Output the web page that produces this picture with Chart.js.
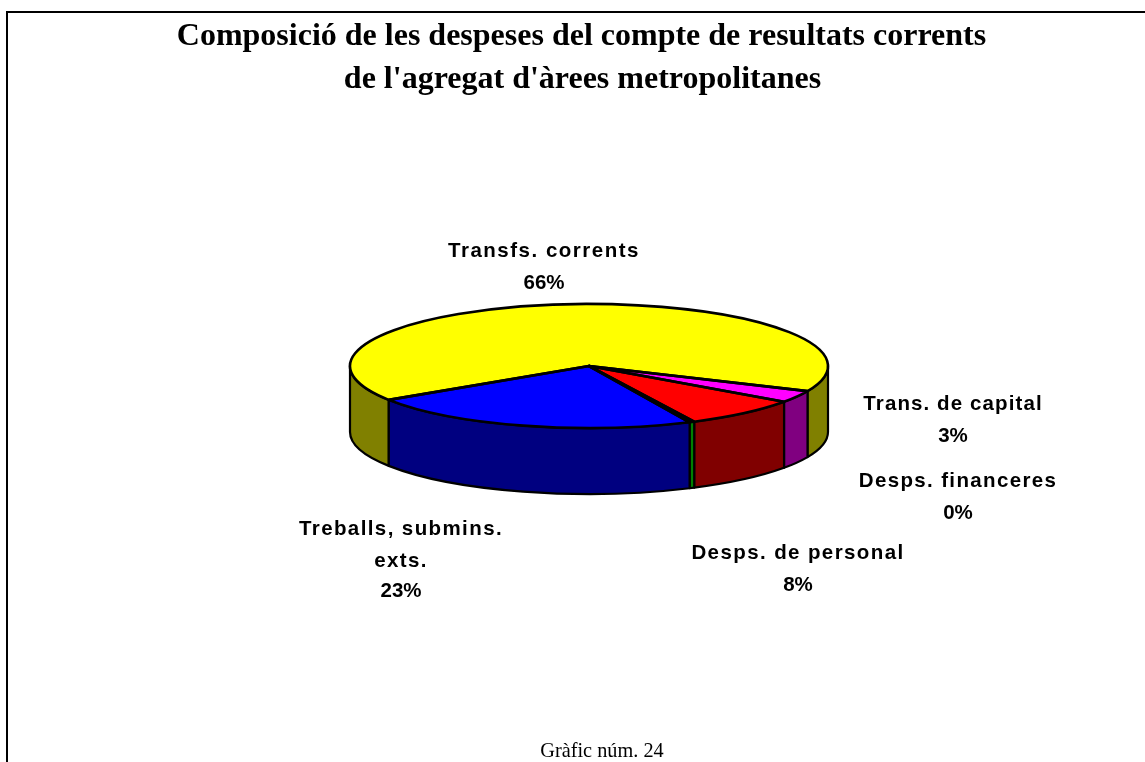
<!DOCTYPE html>
<html><head><meta charset="utf-8">
<style>html,body{margin:0;padding:0;background:#fff}#w{position:absolute;left:0;top:0;width:1145px;height:762px}</style>
<script src="https://cdn.jsdelivr.net/npm/chart.js@4"></script>
</head><body><div id="w"><canvas id="c" width="1145" height="762"></canvas></div>
<script>
const categories = ["Transfs. corrents","Trans. de capital","Desps. de personal","Desps. financeres","Treballs, submins. exts."];
const values = [65.83,3.17,7.94,0.34,22.72];
const percentLabels = ["66%","3%","8%","0%","23%"];
const topColors = ["#ffff00","#ff00ff","#ff0000","#008000","#0000ff"];
const sideColors = ["#808000","#800080","#800000","#008000","#000080"];
const titleLines = ["Composició de les despeses del compte de resultats corrents","de l'agregat d'àrees metropolitanes"];
const footerText = "Gràfic núm. 24";
const labelLines = [["Transfs. corrents"],["Trans. de capital"],["Desps. de personal"],["Desps. financeres"],["Treballs, submins.","exts."]];

const RX=239, RY=62, DEPTH=66, K=RY/RX;

const pie3d = {
  id:'pie3d',
  beforeDraw(chart){
    const c=chart.ctx; c.save();
    c.strokeStyle='#000'; c.lineWidth=2;
    c.beginPath(); c.moveTo(7,763); c.lineTo(7,12); c.lineTo(1146,12); c.stroke();
    c.fillStyle='#000'; c.textAlign='center'; c.textBaseline='alphabetic';
    c.font='bold 32px "Liberation Serif"';
    c.fillText(titleLines[0],581.5,45);
    c.fillText(titleLines[1],582.5,88);
    c.font='20.3px "Liberation Serif"';
    c.fillText(footerText,602,757);
    c.restore();
  },
  beforeDatasetsDraw(chart){
    const c=chart.ctx, arcs=chart.getDatasetMeta(0).data;
    const wall=(a,b,col)=>{
      const s=Math.max(a,0), e=Math.min(b,Math.PI);
      if(e<=s) return;
      const x=arcs[0].x, y=arcs[0].y;
      c.beginPath();
      c.ellipse(x,y,RX,RY,0,s,e,false);
      c.ellipse(x,y+DEPTH,RX,RY,0,e,s,true);
      c.closePath();
      c.fillStyle=col; c.fill();
      c.lineWidth=2.2; c.strokeStyle='#000'; c.lineJoin='round'; c.stroke();
    };
    c.save();
    const twoPi=Math.PI*2;
    arcs.forEach((arc,i)=>{
      let a=arc.startAngle%twoPi, b=arc.endAngle%twoPi;
      if(a<0)a+=twoPi; if(b<0)b+=twoPi;
      if(b<a){ wall(a,twoPi,sideColors[i]); wall(0,b,sideColors[i]); }
      else wall(a,b,sideColors[i]);
    });
    c.restore();
    c.save();
    const y=arcs[0].y;
    c.translate(0,y); c.scale(1,K); c.translate(0,-y);
  },
  afterDatasetsDraw(chart){
    const c=chart.ctx, arcs=chart.getDatasetMeta(0).data;
    c.restore();
    c.save();
    c.strokeStyle='#000'; c.lineWidth=2.6; c.lineJoin='round';
    arcs.forEach(arc=>{
      c.beginPath();
      c.moveTo(arc.x,arc.y);
      c.ellipse(arc.x,arc.y,RX,RY,0,arc.startAngle,arc.endAngle,false);
      c.closePath(); c.stroke();
    });
    c.restore();
    const o=chart.options.plugins.pie3d, pos=o.labelCenters, sp=o.spacing;
    c.save();
    c.fillStyle='#000'; c.font='bold 20.5px "Liberation Sans"'; c.textAlign='center'; c.textBaseline='middle';
    categories.forEach((_,i)=>{
      const [x,ys]=pos[i];
      const lines=[...labelLines[i],percentLabels[i]];
      lines.forEach((t,j)=>{
        c.letterSpacing = j===lines.length-1 ? '0px' : sp[i]+'px';
        c.fillText(t,x,ys[j]);
      });
    });
    c.restore();
  }
};

new Chart(document.getElementById('c'),{
  type:'pie',
  data:{labels:categories,datasets:[{data:values,backgroundColor:topColors,borderWidth:0,radius:RX,clip:false}]},
  options:{
    responsive:false,animation:false,
    rotation:236.9,
    layout:{padding:{left:33,top:0,bottom:30,right:0}},
    events:[],
    plugins:{
      legend:{display:false},tooltip:{enabled:false},title:{display:false},
      pie3d:{labelCenters:[[544,[251,283]],[953,[404,436]],[798,[553,585]],[958,[481,513]],[401,[529,561,591]]],spacing:[1.5,1.1,1.4,1.35,1.4]}
    }
  },
  plugins:[pie3d]
});
</script></body></html>
